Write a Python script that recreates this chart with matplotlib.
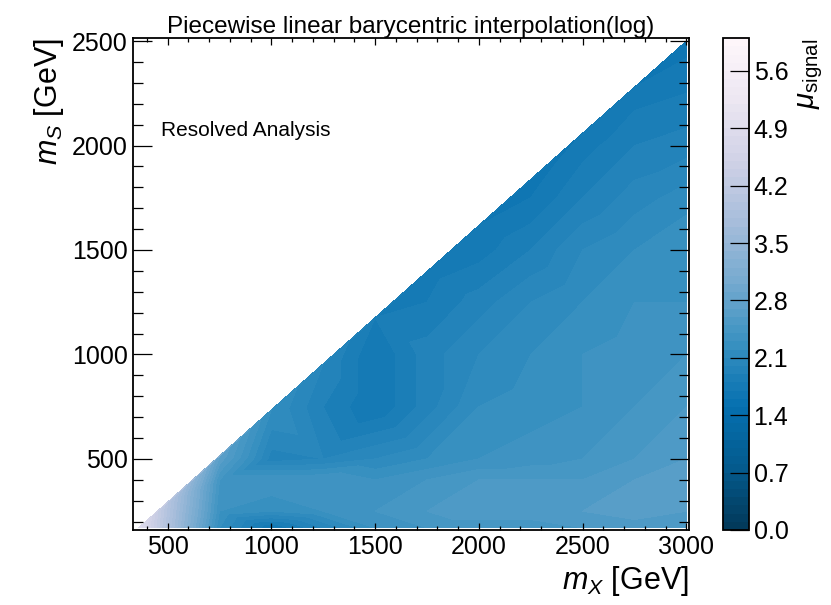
import numpy as np
import matplotlib
matplotlib.use("Agg")
import matplotlib.pyplot as plt
from matplotlib.ticker import MultipleLocator

plt.rcParams["font.family"] = ["Liberation Sans", "DejaVu Sans"]
plt.rcParams["mathtext.fontset"] = "custom"
plt.rcParams["mathtext.rm"] = "Liberation Sans"
plt.rcParams["mathtext.it"] = "Liberation Sans:italic"

# Signal grid points (mX, mS) and fitted signal strength, column by column
mx = [360,
      500, 500,
      750, 750, 750, 750,
      1000, 1000, 1000, 1000, 1000,
      1250, 1250, 1250, 1250, 1250, 1250,
      1500, 1500, 1500, 1500, 1500, 1500, 1500,
      1750, 1750, 1750, 1750, 1750, 1750, 1750, 1750,
      2000, 2000, 2000, 2000, 2000, 2000, 2000, 2000, 2000,
      2250, 2250, 2250, 2250, 2250, 2250, 2250, 2250, 2250, 2250,
      2500, 2500, 2500, 2500, 2500, 2500, 2500, 2500, 2500, 2500, 2500,
      2750, 2750, 2750, 2750, 2750, 2750, 2750, 2750, 2750, 2750, 2750, 2750,
      3000, 3000, 3000, 3000, 3000, 3000, 3000, 3000, 3000, 3000, 3000, 3000]
ms = [170,
      170, 293,
      170, 250, 400, 514,
      170, 250, 400, 500, 735,
      170, 250, 400, 500, 750, 955,
      170, 250, 400, 500, 750, 1000, 1176,
      170, 250, 400, 500, 750, 1000, 1250, 1397,
      170, 250, 400, 500, 750, 1000, 1250, 1500, 1617,
      170, 250, 400, 500, 750, 1000, 1250, 1500, 1750, 1838,
      170, 250, 400, 500, 750, 1000, 1250, 1500, 1750, 2000, 2059,
      170, 250, 400, 500, 750, 1000, 1250, 1500, 1750, 2000, 2250, 2279,
      170, 250, 400, 500, 750, 1000, 1250, 1500, 1750, 2000, 2250, 2500]
mu = [4.9,
      3.9, 4.0,
      2.2, 2.3, 2.4, 2.7,
      1.7, 2.2, 2.4, 1.95, 2.2,
      2.0, 2.3, 2.4, 2.0, 1.9, 2.0,
      2.3, 2.4, 2.3, 2.1, 1.7, 1.7, 1.8,
      2.4, 2.5, 2.4, 2.2, 1.95, 1.95, 1.8, 1.75,
      2.4, 2.6, 2.5, 2.3, 2.2, 2.1, 1.95, 1.75, 1.7,
      2.4, 2.6, 2.5, 2.35, 2.25, 2.2, 2.1, 1.9, 1.7, 1.65,
      2.5, 2.6, 2.5, 2.4, 2.3, 2.3, 2.2, 2.1, 1.9, 1.75, 1.7,
      2.5, 2.7, 2.6, 2.5, 2.4, 2.35, 2.3, 2.2, 2.05, 1.9, 1.75, 1.7,
      2.5, 2.6, 2.6, 2.6, 2.5, 2.4, 2.3, 2.3, 2.15, 1.95, 1.8, 1.65]

levels = np.linspace(0, 6, 61)

fig = plt.figure(figsize=(8.31, 6.05), dpi=100)
ax = fig.add_axes([0.1595, 0.124, 0.670, 0.813])
cax = fig.add_axes([0.870, 0.124, 0.031, 0.813])

cs = ax.tricontourf(mx, ms, mu, levels=levels, cmap="PuBu_r")
ax.set_xlim(331, 3014)
ax.set_ylim(160, 2514)

ax.set_title("Piecewise linear barycentric interpolation(log)", fontsize=17.5, pad=2)
ax.text(0.052, 0.813, "Resolved Analysis", transform=ax.transAxes, fontsize=15,
        ha="left", va="center")

ax.set_xlabel(r"$m_X$ [GeV]", fontsize=22, loc="right")
ax.set_ylabel(r"$m_S$ [GeV]", fontsize=22, loc="top")

ax.xaxis.set_major_locator(MultipleLocator(500))
ax.xaxis.set_minor_locator(MultipleLocator(100))
ax.yaxis.set_major_locator(MultipleLocator(500))
ax.yaxis.set_minor_locator(MultipleLocator(100))
ax.tick_params(axis="both", which="both", direction="in", top=True, right=True,
               labelsize=18, width=0.9)
ax.tick_params(axis="x", which="major", length=5)
ax.tick_params(axis="x", which="minor", length=3)
ax.tick_params(axis="y", which="major", length=14)
ax.tick_params(axis="y", which="minor", length=7)
for sp in ax.spines.values():
    sp.set_linewidth(1.3)

cb = fig.colorbar(cs, cax=cax)
cb.set_label(r"$\mu_{\mathrm{signal}}$", fontsize=21, loc="top", labelpad=6)
cax.tick_params(direction="in", length=14, width=0.9, labelsize=18)
cb.outline.set_linewidth(1.3)

fig.savefig("out.png", dpi=100)
